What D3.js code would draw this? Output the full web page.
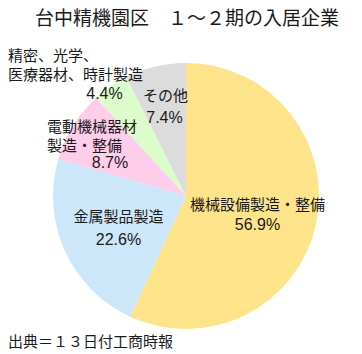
<!DOCTYPE html>
<html><head><meta charset="utf-8">
<script src="https://cdn.jsdelivr.net/npm/d3@7"></script>
<style>
html,body{margin:0;padding:0;background:#fff;}
svg{display:block;}
text{font-family:"Noto Sans CJK JP","Noto Sans",sans-serif;fill:#1a1a1a;}
text.pct{font-family:"Liberation Sans",Arial,sans-serif;}
</style></head>
<body>
<script>
const title = "台中精機園区　１～２期の入居企業";
const source = "出典＝１３日付工商時報";
const categories = ["機械設備製造・整備","金属製品製造","電動機械器材製造・整備","精密、光学、医療器材、時計製造","その他"];
const values = [56.9, 22.6, 8.7, 4.4, 7.4];
const labelLines = [["機械設備製造・整備"],["金属製品製造"],["電動機械器材","製造・整備"],["精密、光学、","医療器材、時計製造"],["その他"]];
const colors = ["#FDE48B","#CCE7F9","#FDCDEA","#DDFCCB","#DCDCDC"];

const W=362,H=354;
const svg=d3.select("body").append("svg").attr("width",W).attr("height",H);
const cx=186, cy=196, r=133;
const pie=d3.pie().sort(null).value(d=>d)(values);
const arc=d3.arc().innerRadius(0).outerRadius(r);
const g=svg.append("g").attr("transform",`translate(${cx},${cy})`);
g.selectAll("path").data(pie).join("path").attr("d",arc).attr("fill",(d,i)=>colors[i]);

svg.append("text").attr("x",187).attr("y",25).attr("text-anchor","middle").attr("font-size",19).text(title);
svg.append("text").attr("x",8).attr("y",347).attr("font-size",15).text(source);

// label layout
const layout=[
  {x:190,y:210,a:"start",lh:20,px:257.5,py:230},
  {x:118.5,y:222,a:"middle",lh:20,px:118.5,py:245},
  {x:47,y:131.5,a:"start",lh:19,px:110,py:167.5},
  {x:8,y:61,a:"start",lh:19,px:104.5,py:99},
  {x:143,y:101,a:"start",lh:20,px:164.5,py:123}
];
layout.forEach((L,i)=>{
  const t=svg.append("text").attr("font-size",15).attr("text-anchor",L.a);
  labelLines[i].forEach((ln,j)=>{
    t.append("tspan").attr("x",L.x).attr("y",L.y+j*L.lh).text(ln);
  });
  svg.append("text").attr("class","pct").attr("x",L.px).attr("y",L.py).attr("text-anchor","middle").attr("font-size",16).text(values[i].toFixed(1)+"%");
});
</script>
</body></html>
